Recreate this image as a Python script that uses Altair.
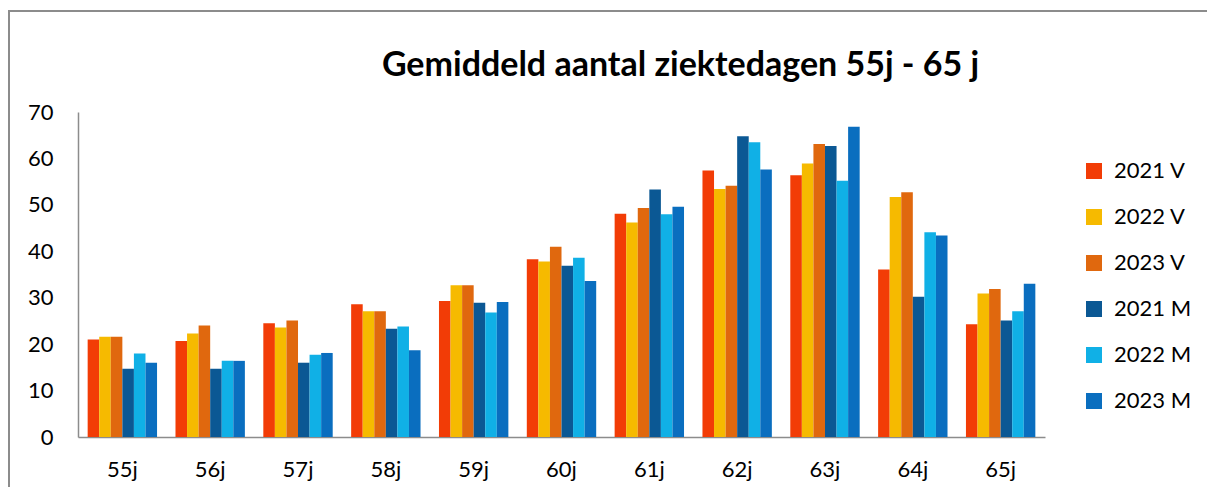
import altair as alt
import pandas as pd

title_text = ["Gemiddeld aantal ziektedagen 55j - 65 j"]
ages = ["55j", "56j", "57j", "58j", "59j", "60j", "61j", "62j", "63j", "64j", "65j"]
series = ["2021 V", "2022 V", "2023 V", "2021 M", "2022 M", "2023 M"]
colors = ["#F23C06", "#F6BA00", "#E0680E", "#0B5894", "#10B0E6", "#0A6EBF"]

v2021_V = [21.0, 20.7, 24.5, 28.6, 29.3, 38.3, 48.1, 57.4, 56.4, 36.1, 24.3]
v2022_V = [21.6, 22.3, 23.6, 27.1, 32.7, 37.8, 46.2, 53.4, 58.9, 51.7, 30.9]
v2023_V = [21.6, 24.0, 25.1, 27.1, 32.7, 41.0, 49.3, 54.1, 63.1, 52.7, 31.9]
v2021_M = [14.7, 14.7, 16.0, 23.3, 28.9, 36.9, 53.3, 64.8, 62.7, 30.2, 25.1]
v2022_M = [18.0, 16.4, 17.7, 23.8, 26.8, 38.6, 48.0, 63.5, 55.2, 44.1, 27.1]
v2023_M = [16.0, 16.4, 18.1, 18.7, 29.1, 33.6, 49.6, 57.6, 66.8, 43.4, 33.0]

values = [v2021_V, v2022_V, v2023_V, v2021_M, v2022_M, v2023_M]
rows = []
for s, vals in zip(series, values):
    for a, v in zip(ages, vals):
        rows.append({"leeftijd": a, "reeks": s, "dagen": v})
df = pd.DataFrame(rows)

FONT = "Lato"

bars = alt.Chart(df).mark_bar().encode(
    x=alt.X("leeftijd:N", sort=ages, title=None,
            scale=alt.Scale(paddingInner=0.21, paddingOuter=0.11),
            axis=alt.Axis(labelAngle=0, labelFontSize=22, labelPadding=22,
                          ticks=False, domainColor="#8c8c8c", domainWidth=1.5,
                          labelColor="#000", labelFont=FONT)),
    xOffset=alt.XOffset("reeks:N", sort=series),
    y=alt.Y("dagen:Q", title=None,
            scale=alt.Scale(domain=[0, 70], nice=False),
            axis=alt.Axis(values=[0, 10, 20, 30, 40, 50, 60, 70], grid=False,
                          ticks=False, labelFontSize=22, labelPadding=25,
                          domainColor="#8c8c8c", domainWidth=1.5,
                          labelColor="#000", labelFont=FONT)),
    color=alt.Color("reeks:N", sort=series,
                    scale=alt.Scale(domain=series, range=colors),
                    legend=alt.Legend(title=None, orient="none", legendX=1005, legendY=48,
                                      symbolType="square", symbolSize=256,
                                      symbolStrokeWidth=0, labelFontSize=22,
                                      labelFont=FONT, labelColor="#000",
                                      rowPadding=24, labelOffset=9)),
)

frame_src = pd.DataFrame({"k": [0]})
top_line = alt.Chart(frame_src).mark_rule(color="#8c8c8c", strokeWidth=2).encode(
    x=alt.value(-69), x2=alt.value(1129), y=alt.value(-101)
)
left_line = alt.Chart(frame_src).mark_rule(color="#8c8c8c", strokeWidth=2).encode(
    x=alt.value(-69), y=alt.value(-102), y2=alt.value(380)
)

title = alt.Chart(pd.DataFrame({"t": title_text})).mark_text(
    font=FONT, fontSize=34, fontWeight="bold", color="#000",
    align="center", baseline="alphabetic"
).encode(
    text="t:N", x=alt.value(602.5), y=alt.value(-36)
)

chart = alt.layer(top_line, left_line, bars, title).properties(
    width=967,
    height=325,
    padding={"left": 70, "top": 104, "right": 162, "bottom": 50},
    autosize=alt.AutoSizeParams(type="none"),
).configure_view(stroke=None)

chart.save("out.html", embed_options={"renderer": "svg", "actions": False})
